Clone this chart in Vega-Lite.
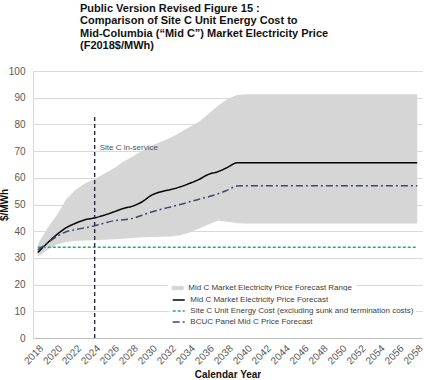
{
  "$schema": "https://vega.github.io/schema/vega-lite/v6.json",
  "width": 389,
  "height": 267,
  "autosize": {"type": "none"},
  "padding": {"left": 33, "top": 71, "right": 2, "bottom": 42},
  "background": "white",
  "config": {
    "font": "Liberation Sans",
    "view": {"stroke": null},
    "axis": {"labelFont": "Liberation Sans", "titleFont": "Liberation Sans"},
    "axisY": {
      "tickCount": 10,
      "labelFontSize": 10,
      "labelColor": "#595959",
      "labelPadding": 8,
      "ticks": false,
      "grid": true,
      "gridColor": "#d9d9d9",
      "domainColor": "#d9d9d9",
      "titleFontSize": 10,
      "titleFontWeight": "bold",
      "titleColor": "#111111",
      "titleX": -24,
      "titleY": 133.5,
      "titleAngle": 270,
      "titleBaseline": "bottom",
      "labelOverlap": false
    }
  },
  "title": {
    "text": ["Public Version Revised Figure 15 :", "Comparison of Site C Unit Energy Cost to", "Mid-Columbia (\u201cMid C\u201d) Market Electricity Price", "(F2018$/MWh)"],
    "anchor": "start",
    "frame": "group",
    "dx": 47,
    "offset": 15,
    "fontSize": 11,
    "fontWeight": "bold",
    "lineHeight": 12.3,
    "color": "#111111",
    "font": "Liberation Sans"
  },
  "data": {"values": [
    {"year": 2018, "lo": 30.5, "hi": 35, "midc": 32, "bcuc": 33, "sitec": 34},
    {"year": 2019, "lo": 33, "hi": 41, "midc": 35.5, "bcuc": 35.5, "sitec": 34},
    {"year": 2020, "lo": 35, "hi": 46, "midc": 38.7, "bcuc": 38, "sitec": 34},
    {"year": 2021, "lo": 36, "hi": 52, "midc": 41.3, "bcuc": 39.8, "sitec": 34},
    {"year": 2022, "lo": 36.3, "hi": 55.5, "midc": 43, "bcuc": 40.6, "sitec": 34},
    {"year": 2023, "lo": 36.5, "hi": 58, "midc": 44.3, "bcuc": 41.3, "sitec": 34},
    {"year": 2024, "lo": 36.6, "hi": 59.5, "midc": 45, "bcuc": 42, "sitec": 34},
    {"year": 2025, "lo": 36.8, "hi": 61.5, "midc": 46, "bcuc": 43, "sitec": 34},
    {"year": 2026, "lo": 37, "hi": 63.5, "midc": 47.2, "bcuc": 43.9, "sitec": 34},
    {"year": 2027, "lo": 37.2, "hi": 66, "midc": 48.5, "bcuc": 44.3, "sitec": 34},
    {"year": 2028, "lo": 37.5, "hi": 68, "midc": 49.4, "bcuc": 44.8, "sitec": 34},
    {"year": 2029, "lo": 37.7, "hi": 70, "midc": 51, "bcuc": 46, "sitec": 34},
    {"year": 2030, "lo": 37.8, "hi": 72, "midc": 53.5, "bcuc": 47.2, "sitec": 34},
    {"year": 2031, "lo": 37.9, "hi": 73.5, "midc": 54.8, "bcuc": 48.2, "sitec": 34},
    {"year": 2032, "lo": 38, "hi": 75, "midc": 55.6, "bcuc": 49.1, "sitec": 34},
    {"year": 2033, "lo": 38.5, "hi": 77, "midc": 56.6, "bcuc": 50, "sitec": 34},
    {"year": 2034, "lo": 39.5, "hi": 79, "midc": 57.9, "bcuc": 51, "sitec": 34},
    {"year": 2035, "lo": 41, "hi": 81, "midc": 59.4, "bcuc": 52, "sitec": 34},
    {"year": 2036, "lo": 42.5, "hi": 84, "midc": 61.3, "bcuc": 52.9, "sitec": 34},
    {"year": 2037, "lo": 44, "hi": 87, "midc": 62.3, "bcuc": 54, "sitec": 34},
    {"year": 2038, "lo": 43.5, "hi": 89.5, "midc": 63.9, "bcuc": 55.4, "sitec": 34},
    {"year": 2039, "lo": 43, "hi": 91, "midc": 65.6, "bcuc": 56.9, "sitec": 34},
    {"year": 2040, "lo": 42.9, "hi": 91.3, "midc": 65.6, "bcuc": 57, "sitec": 34},
    {"year": 2041, "lo": 42.9, "hi": 91.3, "midc": 65.6, "bcuc": 57, "sitec": 34},
    {"year": 2042, "lo": 42.9, "hi": 91.3, "midc": 65.6, "bcuc": 57, "sitec": 34},
    {"year": 2043, "lo": 42.9, "hi": 91.3, "midc": 65.6, "bcuc": 57, "sitec": 34},
    {"year": 2044, "lo": 42.9, "hi": 91.3, "midc": 65.6, "bcuc": 57, "sitec": 34},
    {"year": 2045, "lo": 42.9, "hi": 91.3, "midc": 65.6, "bcuc": 57, "sitec": 34},
    {"year": 2046, "lo": 42.9, "hi": 91.3, "midc": 65.6, "bcuc": 57, "sitec": 34},
    {"year": 2047, "lo": 42.9, "hi": 91.3, "midc": 65.6, "bcuc": 57, "sitec": 34},
    {"year": 2048, "lo": 42.9, "hi": 91.3, "midc": 65.6, "bcuc": 57, "sitec": 34},
    {"year": 2049, "lo": 42.9, "hi": 91.3, "midc": 65.6, "bcuc": 57, "sitec": 34},
    {"year": 2050, "lo": 42.9, "hi": 91.3, "midc": 65.6, "bcuc": 57, "sitec": 34},
    {"year": 2051, "lo": 42.9, "hi": 91.3, "midc": 65.6, "bcuc": 57, "sitec": 34},
    {"year": 2052, "lo": 42.9, "hi": 91.3, "midc": 65.6, "bcuc": 57, "sitec": 34},
    {"year": 2053, "lo": 42.9, "hi": 91.3, "midc": 65.6, "bcuc": 57, "sitec": 34},
    {"year": 2054, "lo": 42.9, "hi": 91.3, "midc": 65.6, "bcuc": 57, "sitec": 34},
    {"year": 2055, "lo": 42.9, "hi": 91.3, "midc": 65.6, "bcuc": 57, "sitec": 34},
    {"year": 2056, "lo": 42.9, "hi": 91.3, "midc": 65.6, "bcuc": 57, "sitec": 34},
    {"year": 2057, "lo": 42.9, "hi": 91.3, "midc": 65.6, "bcuc": 57, "sitec": 34},
    {"year": 2058, "lo": 42.9, "hi": 91.3, "midc": 65.6, "bcuc": 57, "sitec": 34}
  ]},
  "encoding": {
    "x": {
      "field": "year", "type": "quantitative",
      "scale": {"domain": [2017.5, 2058.5], "nice": false, "zero": false},
      "axis": {
        "title": "Calendar Year",
        "values": [2018, 2020, 2022, 2024, 2026, 2028, 2030, 2032, 2034, 2036, 2038, 2040, 2042, 2044, 2046, 2048, 2050, 2052, 2054, 2056, 2058],
        "format": "d",
        "labelAngle": -45,
        "labelAlign": "right",
        "labelBaseline": "top",
        "labelFontSize": 10,
        "labelColor": "#595959",
        "labelPadding": 5,
        "ticks": false,
        "grid": false,
        "domainColor": "#bfbfbf",
        "titleFontSize": 10,
        "titleFontWeight": "bold",
        "titleColor": "#111111",
        "titlePadding": 4,
        "labelOverlap": false
      }
    }
  },
  "layer": [
    {
      "mark": {"type": "area", "opacity": 1},
      "encoding": {
        "y": {"field": "lo", "type": "quantitative", "title": "$/MWh", "scale": {"domain": [0, 100], "nice": false}},
        "y2": {"field": "hi"},
        "fill": {
          "datum": "Mid C Market Electricity Price Forecast Range", "type": "nominal",
          "scale": {"range": ["#d6d6d6"]},
          "legend": {
            "orient": "none",
            "legendX": 134.7,
            "legendY": 207,
            "zindex": 1,
            "title": null,
            "fillColor": "white",
            "padding": 4,
            "symbolType": "M-1,-0.36L1,-0.36L1,0.36L-1,0.36Z",
            "symbolSize": 144,
            "symbolStrokeWidth": 0,
            "labelFontSize": 8,
            "labelColor": "#404040",
            "labelOffset": 4.6,
            "labelLimit": 300
          }
        }
      }
    },
    {
      "transform": [{"fold": ["midc", "sitec", "bcuc"], "as": ["key", "value"]}],
      "mark": {"type": "line", "interpolate": "monotone", "strokeWidth": 1.5},
      "encoding": {
        "y": {"field": "value", "type": "quantitative", "title": "$/MWh"},
        "detail": {"field": "key"},
        "color": {
          "field": "key", "type": "nominal",
          "scale": {"domain": ["midc", "sitec", "bcuc"], "range": ["#000000", "#1fae6e", "#3d4966"]},
          "legend": {
            "orient": "none",
            "legendX": 136.7,
            "legendY": 220,
            "zindex": 2,
            "title": null,
            "fillColor": "white",
            "padding": 2,
            "symbolType": "stroke",
            "symbolSize": 144,
            "symbolStrokeWidth": 1.5,
            "rowPadding": -1.3,
            "labelFontSize": 8,
            "labelColor": "#404040",
            "labelOffset": 4.6,
            "labelLimit": 300,
            "labelExpr": "datum.label == 'midc' ? 'Mid C Market Electricity Price Forecast' : datum.label == 'sitec' ? 'Site C Unit Energy Cost (excluding sunk and termination costs)' : 'BCUC Panel Mid C Price Forecast'"
          }
        },
        "strokeDash": {
          "field": "key", "type": "nominal",
          "scale": {"domain": ["midc", "sitec", "bcuc"], "range": [[1, 0], [3, 2], [7, 3, 2, 3]]}
        }
      }
    },
    {
      "data": {"values": [{"year": 2024, "y0": 0, "y1": 83, "label": "Site C in-service", "ty": 71}]},
      "layer": [
        {
          "mark": {"type": "rule", "color": "#2b2b3b", "strokeDash": [4, 3], "strokeWidth": 1.4},
          "encoding": {"y": {"field": "y0", "type": "quantitative", "title": "$/MWh"}, "y2": {"field": "y1"}}
        },
        {
          "mark": {"type": "text", "align": "left", "baseline": "middle", "dx": 5, "fontSize": 8, "color": "#44546a"},
          "encoding": {"y": {"field": "ty", "type": "quantitative", "title": "$/MWh"}, "text": {"field": "label"}}
        }
      ]
    }
  ]
}
